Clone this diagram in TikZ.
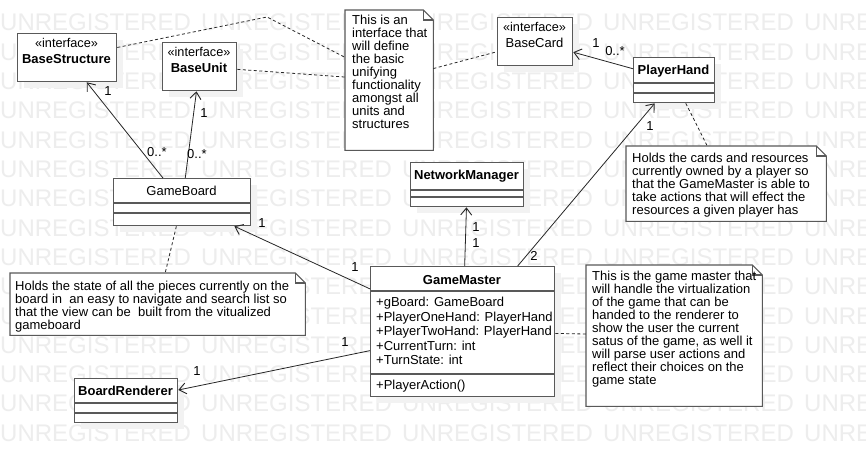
\documentclass[tikz,border=0pt]{standalone}
\usepackage{fontspec}
\setmainfont{Liberation Sans}
\usetikzlibrary{arrows.meta,shadows,calc}
\newcommand{\fsn}{\fontsize{13}{13}\selectfont}
\newcommand{\fsb}{\fontsize{13}{13}\selectfont\bfseries}
\newcommand{\fst}{\fontsize{12.7}{13}\selectfont}
\newcommand{\fwm}{\fontsize{24}{24}\selectfont}
\newcommand{\drawnote}[1]{%
  \draw[noteline] (#1.north west) -- ([xshift=-10pt]#1.north east) -- ([yshift=-10pt]#1.north east) -- (#1.south east) -- (#1.south west) -- cycle;
  \draw[noteline] ([xshift=-10pt]#1.north east) -- ([xshift=-10pt,yshift=-10pt]#1.north east) -- ([yshift=-10pt]#1.north east);}
\tikzset{
  classbox/.style={draw=black!65, line width=1.3pt, fill=white, anchor=north west, inner sep=0pt,
    drop shadow={shadow xshift=6pt, shadow yshift=-6pt, fill=black!5, opacity=1}},
  notebox/.style={draw=none, fill=white, anchor=north west, inner sep=0pt},
  noteline/.style={draw=black!65, line width=1.1pt},
  boxline/.style={draw=black!65, line width=1.3pt},
  title/.style={font=\fsb, anchor=base, inner sep=0pt},
  titlereg/.style={font=\fsn, anchor=base, inner sep=0pt},
  stereo/.style={font=\fst, anchor=base, inner sep=0pt},
  member/.style={font=\fsn, anchor=base west, inner sep=0pt},
  notetext/.style={font=\fsn, align=left, anchor=north west, inner sep=0pt},
  mult/.style={font=\fsn, inner sep=0pt},
  assoc/.style={draw=black!85, line width=0.8pt, -{Straight Barb[length=7pt,width=11pt,line width=0.9pt]}},
  anchorline/.style={draw=black!85, line width=0.8pt, dash pattern=on 3pt off 2.5pt},
  wm/.style={font=\fwm, text=black!7, anchor=base west, inner sep=0pt}
}
\begin{document}
\begin{tikzpicture}[x=1pt,y=-1pt]
\useasboundingbox (0,0) rectangle (866,462);
\fill[white] (0,0) rectangle (866,462);
% watermark
\foreach \r in {0,...,14}{
  \foreach \c in {0,...,4}{
    \node[wm] (wm-\r-\c) at ({\c*201},{31+\r*29.3}) {UNREGISTERED};
  }
}
% notes (background)
\node[notebox, minimum width=88pt, minimum height=140pt] (n1) at (345,10) {};
\node[notebox, minimum width=200pt, minimum height=75pt] (n2) at (626,146) {};
\node[notebox, minimum width=295pt, minimum height=62pt] (n3) at (10,273) {};
\node[notebox, minimum width=176pt, minimum height=141pt] (n4) at (586,265) {};
% class boxes
\node[classbox, minimum width=99pt, minimum height=48pt] (bs) at (17,33) {};
\node[classbox, minimum width=74pt, minimum height=48pt] (bu) at (162,42) {};
\node[classbox, minimum width=75pt, minimum height=48pt] (bc) at (497,17) {};
\node[classbox, minimum width=81pt, minimum height=45pt] (ph) at (633,57) {};
\node[classbox, minimum width=137pt, minimum height=47pt] (gb) at (113,178) {};
\node[classbox, minimum width=113pt, minimum height=44pt] (nm) at (410,162) {};
\node[classbox, minimum width=184pt, minimum height=130pt] (gm) at (370,266) {};
\node[classbox, minimum width=103pt, minimum height=44pt] (br) at (74,378) {};
% compartments
\draw[boxline] ([yshift=-26pt]ph.north west) -- ([yshift=-26pt]ph.north east);
\draw[boxline] ([yshift=-36pt]ph.north west) -- ([yshift=-36pt]ph.north east);
\draw[boxline] ([yshift=-25pt]gb.north west) -- ([yshift=-25pt]gb.north east);
\draw[boxline] ([yshift=-35pt]gb.north west) -- ([yshift=-35pt]gb.north east);
\draw[boxline] ([yshift=-28pt]nm.north west) -- ([yshift=-28pt]nm.north east);
\draw[boxline] ([yshift=-35pt]nm.north west) -- ([yshift=-35pt]nm.north east);
\draw[boxline] ([yshift=-25pt]br.north west) -- ([yshift=-25pt]br.north east);
\draw[boxline] ([yshift=-35pt]br.north west) -- ([yshift=-35pt]br.north east);
\draw[boxline] ([yshift=-25pt]gm.north west) -- ([yshift=-25pt]gm.north east);
\draw[boxline] ([yshift=-108pt]gm.north west) -- ([yshift=-108pt]gm.north east);
% class texts
\node[stereo] (bs-s) at (66.5,48) {«interface»};
\node[title] (bs-t) at (66.5,64) {BaseStructure};
\node[stereo] (bu-s) at (199,57) {«interface»};
\node[title] (bu-t) at (199,73) {BaseUnit};
\node[stereo] (bc-s) at (534.5,32) {«interface»};
\node[titlereg] (bc-t) at (534.5,48) {BaseCard};
\node[title] (ph-t) at (673.5,75) {PlayerHand};
\node[titlereg] (gb-t) at (181.5,196) {GameBoard};
\node[title] (nm-t) at (466.5,180) {NetworkManager};
\node[title] (gm-t) at (462,284) {GameMaster};
\node[title] (br-t) at (125.5,395) {BoardRenderer};
\node[member] (gm-a1) at (376,306.5) {+gBoard: GameBoard};
\node[member] (gm-a2) at (376,321.1) {+PlayerOneHand: PlayerHand};
\node[member] (gm-a3) at (376,335.7) {+PlayerTwoHand: PlayerHand};
\node[member] (gm-a4) at (376,350.3) {+CurrentTurn: int};
\node[member] (gm-a5) at (376,364.9) {+TurnState: int};
\node[member] (gm-m1) at (376,389.5) {+PlayerAction()};
% note outlines and texts
\drawnote{n1}
\drawnote{n2}
\drawnote{n3}
\drawnote{n4}
\node[notetext] (n1-t) at (352,15) {This is an\\interface that\\will define\\the basic\\unifying\\functionality\\amongst all\\units and\\structures};
\node[notetext] (n2-t) at (632,153) {Holds the cards and resources\\currently owned by a player so\\that the GameMaster is able to\\take actions that will effect the\\resources a given player has};
\node[notetext] (n3-t) at (15,281) {Holds the state of all the pieces currently on the\\board in\ \ an easy to navigate and search list so\\that the view can be\ \ built from the vitualized\\gameboard};
\node[notetext] (n4-t) at (592,271) {This is the game master that\\will handle the virtualization\\of the game that can be\\handed to the renderer to\\show the user the current\\satus of the game, as well it\\will parse user actions and\\reflect their choices on the\\game state};
% associations
\draw[assoc] (gb) -- (bs);
\draw[assoc] (gb) -- (bu);
\draw[assoc] (ph) -- (bc);
\draw[assoc] (gm) -- (ph);
\draw[assoc] (gm) -- (nm);
\draw[assoc] (gm) -- (gb);
\draw[assoc] (gm) -- (br);
% note anchors
\coordinate (bend1) at (267,17);
\draw[anchorline] (bs) -- (bend1) -- (n1);
\draw[anchorline] (bu) -- (n1);
\draw[anchorline] (n1) -- (bc);
\draw[anchorline] (ph) -- (n2);
\draw[anchorline] (gb) -- (n3);
\draw[anchorline] (gm) -- (n4);
% multiplicities
\node[mult] (m1) at (108,91) {1};
\node[mult] (m2) at (157,152) {0..*};
\node[mult] (m3) at (204,113) {1};
\node[mult] (m4) at (197,154) {0..*};
\node[mult] (m5) at (596,43) {1};
\node[mult] (m6) at (615,51) {0..*};
\node[mult] (m7) at (650,126) {1};
\node[mult] (m8) at (534,256) {2};
\node[mult] (m9) at (476,227) {1};
\node[mult] (m10) at (476,243) {1};
\node[mult] (m11) at (262,223) {1};
\node[mult] (m12) at (355,267) {1};
\node[mult] (m13) at (197,371) {1};
\node[mult] (m14) at (345,342) {1};
\end{tikzpicture}
\end{document}
